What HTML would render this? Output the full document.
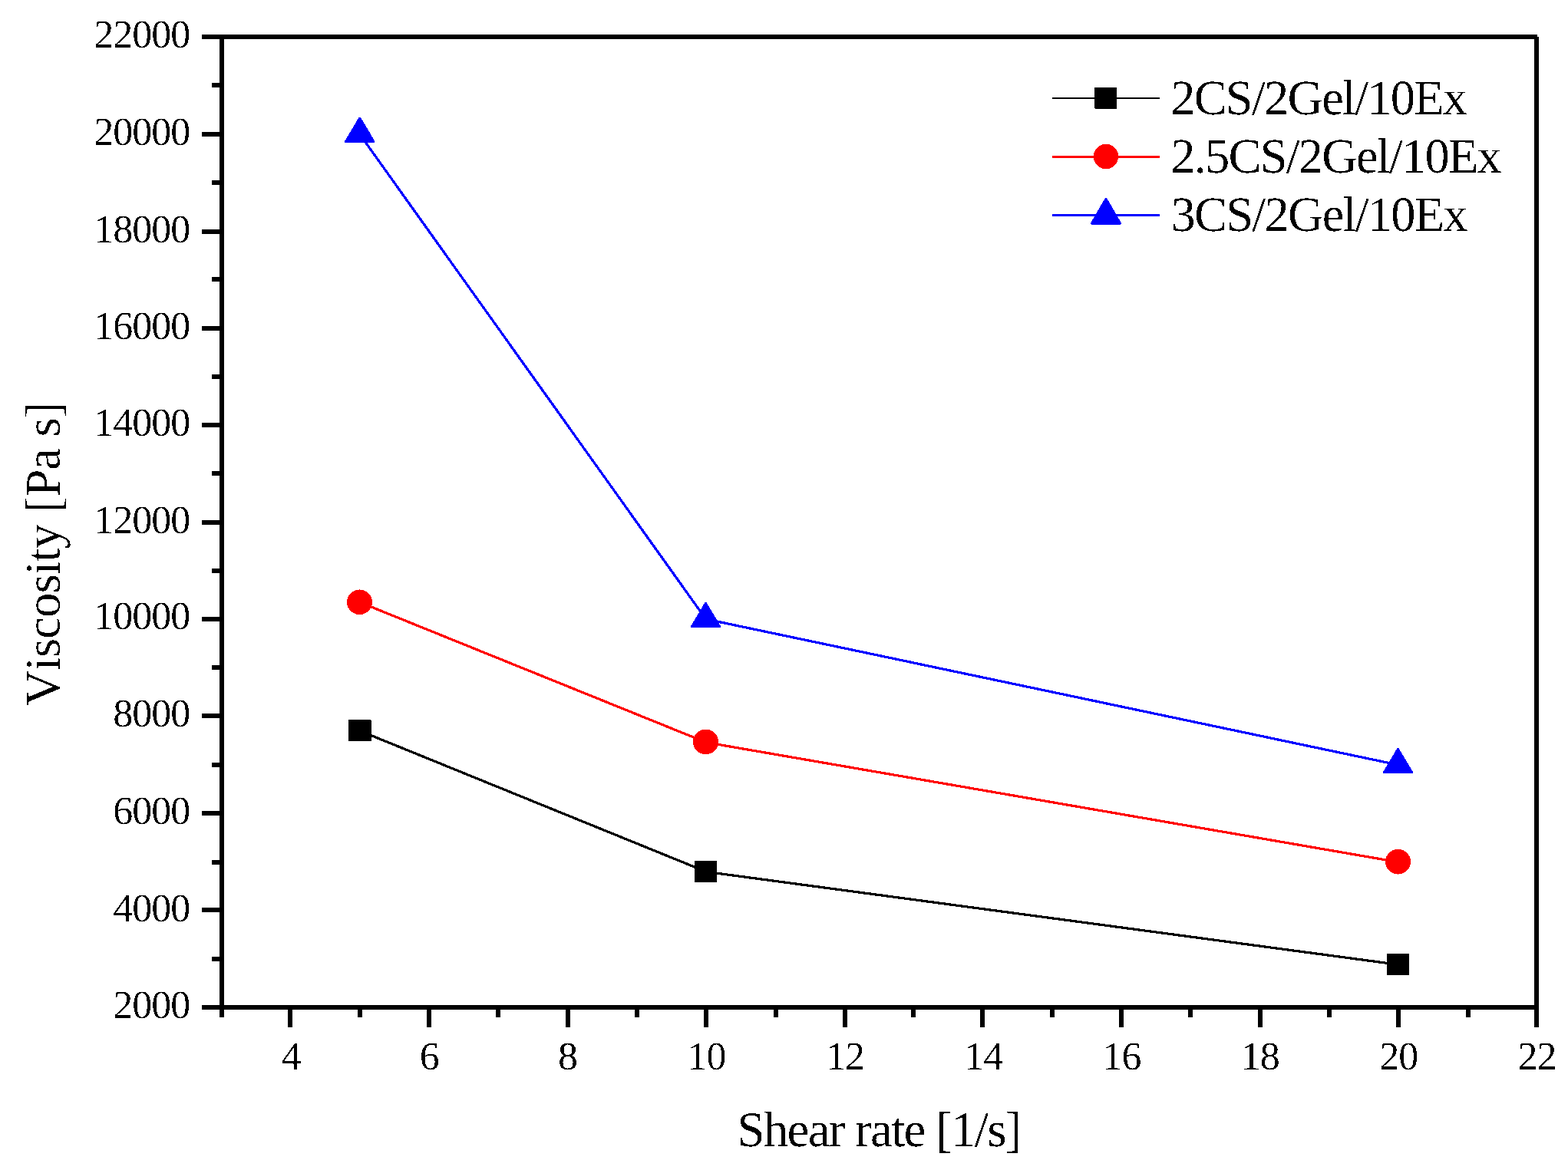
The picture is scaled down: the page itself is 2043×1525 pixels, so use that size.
<!DOCTYPE html>
<html lang="en"><head><meta charset="utf-8">
<title>Viscosity vs shear rate</title>
<style>
html,body{margin:0;padding:0;background:#fff;}
body{width:2043px;height:1525px;overflow:hidden;}
svg{display:block;}
text{font-family:"Liberation Serif","Times New Roman",Times,serif;fill:#000;font-kerning:none;font-variant-ligatures:none;white-space:pre;text-rendering:geometricPrecision;}
.tk{font-size:52px;letter-spacing:-1px;}
.lg{font-size:64.5px;letter-spacing:-1.8px;}
.tt{font-size:65px;letter-spacing:-1px;}
</style></head><body>
<svg width="2043" height="1525" viewBox="0 0 2043 1525" role="img" aria-label="Viscosity versus shear rate">
<rect x="0" y="0" width="2043" height="1525" fill="#ffffff"/>
<defs><filter id="px" x="0" y="0" width="2043" height="1525" filterUnits="userSpaceOnUse" color-interpolation-filters="sRGB"><feComponentTransfer><feFuncA type="discrete" tableValues="0 0 0 1 1"/></feComponentTransfer></filter></defs>
<g id="axes" fill="#000" shape-rendering="crispEdges">
<rect x="286" y="45" width="1717" height="6"/>
<rect x="286" y="1310" width="1719" height="6"/>
<rect x="286" y="45" width="6" height="1281"/>
<rect x="1999" y="48" width="6" height="1291"/>
<rect x="263" y="172" width="23" height="6"/>
<rect x="263" y="299" width="23" height="6"/>
<rect x="263" y="425" width="23" height="6"/>
<rect x="263" y="551" width="23" height="6"/>
<rect x="263" y="678" width="23" height="6"/>
<rect x="263" y="804" width="23" height="6"/>
<rect x="263" y="930" width="23" height="6"/>
<rect x="263" y="1057" width="23" height="6"/>
<rect x="263" y="1183" width="23" height="6"/>
<rect x="263" y="45" width="23" height="6"/>
<rect x="263" y="1310" width="23" height="6"/>
<rect x="276" y="108" width="10" height="6"/>
<rect x="276" y="235" width="10" height="6"/>
<rect x="276" y="361" width="10" height="6"/>
<rect x="276" y="488" width="10" height="6"/>
<rect x="276" y="614" width="10" height="6"/>
<rect x="276" y="741" width="10" height="6"/>
<rect x="276" y="867" width="10" height="6"/>
<rect x="276" y="994" width="10" height="6"/>
<rect x="276" y="1121" width="10" height="6"/>
<rect x="276" y="1247" width="10" height="6"/>
<rect x="375" y="1316" width="6" height="23"/>
<rect x="466" y="1316" width="6" height="10"/>
<rect x="556" y="1316" width="6" height="23"/>
<rect x="646" y="1316" width="6" height="10"/>
<rect x="737" y="1316" width="6" height="23"/>
<rect x="827" y="1316" width="6" height="10"/>
<rect x="917" y="1316" width="6" height="23"/>
<rect x="1008" y="1316" width="6" height="10"/>
<rect x="1098" y="1316" width="6" height="23"/>
<rect x="1187" y="1316" width="6" height="10"/>
<rect x="1277" y="1316" width="6" height="23"/>
<rect x="1368" y="1316" width="6" height="10"/>
<rect x="1458" y="1316" width="6" height="23"/>
<rect x="1548" y="1316" width="6" height="10"/>
<rect x="1639" y="1316" width="6" height="23"/>
<rect x="1729" y="1316" width="6" height="10"/>
<rect x="1819" y="1316" width="6" height="23"/>
<rect x="1910" y="1316" width="6" height="10"/>
</g>
<g id="series" shape-rendering="crispEdges">
<line x1="469.00" y1="952.65" x2="920.00" y2="1136.18" stroke="#000000" stroke-width="3.2"/>
<line x1="920.00" y1="1136.32" x2="1822.00" y2="1257.34" stroke="#000000" stroke-width="3.2"/>
<line x1="469.00" y1="785.09" x2="920.00" y2="967.64" stroke="#ff0000" stroke-width="3.2"/>
<line x1="920.00" y1="967.68" x2="1822.00" y2="1123.69" stroke="#ff0000" stroke-width="3.2"/>
<line x1="468.50" y1="174.67" x2="919.50" y2="806.67" stroke="#0000ff" stroke-width="3.2"/>
<line x1="920.11" y1="807.00" x2="1821.68" y2="997.00" stroke="#0000ff" stroke-width="3.2"/>
<path d="M454 938H483V939H484V966H454Z" fill="#000"/>
<rect x="905" y="1122" width="29" height="28" fill="#000"/>
<rect x="1807" y="1243" width="29" height="28" fill="#000"/>
<ellipse cx="468.50" cy="784.75" rx="16.5" ry="16.3" fill="#ff0000"/>
<ellipse cx="919.50" cy="967.00" rx="16.5" ry="16.3" fill="#ff0000"/>
<ellipse cx="1821.50" cy="1123.25" rx="16.5" ry="16.3" fill="#ff0000"/>
<polygon points="467.6,153 470.0,153 488.0,183.4 488.0,186 449.0,186 449.0,184.2" fill="#0000ff"/>
<polygon points="918.6,785 920.4,785 939.0,816.2 939.0,818 900.0,818 900.0,816.2" fill="#0000ff"/>
<polygon points="1820.6,975 1822.4,975 1841.0,1006.2 1841.0,1008 1802.0,1008 1802.0,1006.2" fill="#0000ff"/>
</g>
<g id="legend" shape-rendering="crispEdges">
<rect x="1371" y="127" width="140" height="2" fill="#000"/>
<path d="M1426 114H1455V142H1427V141H1426Z" fill="#000"/>
<rect x="1371" y="203" width="140" height="3" fill="#ff0000"/>
<circle cx="1441" cy="204" r="16.2" fill="#ff0000"/>
<rect x="1371" y="279" width="140" height="3" fill="#0000ff"/>
<polygon points="1440,258 1442,258 1461,290.5 1461,292 1460,292 1460,293 1422,293 1422,292 1421,292 1421,290.5" fill="#0000ff"/>
</g>
<g id="labels" filter="url(#px)">
<g id="legend-text">
<text class="lg" x="1525.2" y="149">2CS/2Gel/10Ex</text>
<text class="lg" x="1525.2" y="225">2.5CS/2Gel/10Ex</text>
<text class="lg" x="1525.6" y="301">3CS/2Gel/10Ex</text>
</g>
<g id="ylabels">
<text class="tk" x="122.20" y="62.0">22000</text>
<text class="tk" x="122.20" y="189.0">20000</text>
<text class="tk" x="122.20" y="315.5">18000</text>
<text class="tk" x="122.20" y="442.0">16000</text>
<text class="tk" x="122.20" y="568.0">14000</text>
<text class="tk" x="122.20" y="695.0">12000</text>
<text class="tk" x="122.20" y="820.0">10000</text>
<text class="tk" x="147.20" y="947.0">8000</text>
<text class="tk" x="147.20" y="1074.0">6000</text>
<text class="tk" x="147.20" y="1201.0">4000</text>
<text class="tk" x="147.20" y="1327.0">2000</text>
</g>
<g id="xlabels">
<text class="tk" x="366.46" y="1394">4</text>
<text class="tk" x="546.77" y="1394">6</text>
<text class="tk" x="727.09" y="1394">8</text>
<text class="tk" x="895.61" y="1394">10</text>
<text class="tk" x="1075.92" y="1394">12</text>
<text class="tk" x="1256.24" y="1394">14</text>
<text class="tk" x="1436.55" y="1394">16</text>
<text class="tk" x="1616.87" y="1394">18</text>
<text class="tk" x="1797.18" y="1394">20</text>
<text class="tk" x="1977.50" y="1394">22</text>
</g>
<text class="tt" x="960.4" y="1493.6" style="letter-spacing:-1.74px">Shear rate [1/s]</text>
<text class="tt" transform="translate(77.6,920.3) rotate(-90)" style="letter-spacing:-1px">Viscosity [Pa s]</text>
</g>
</svg>
</body></html>
